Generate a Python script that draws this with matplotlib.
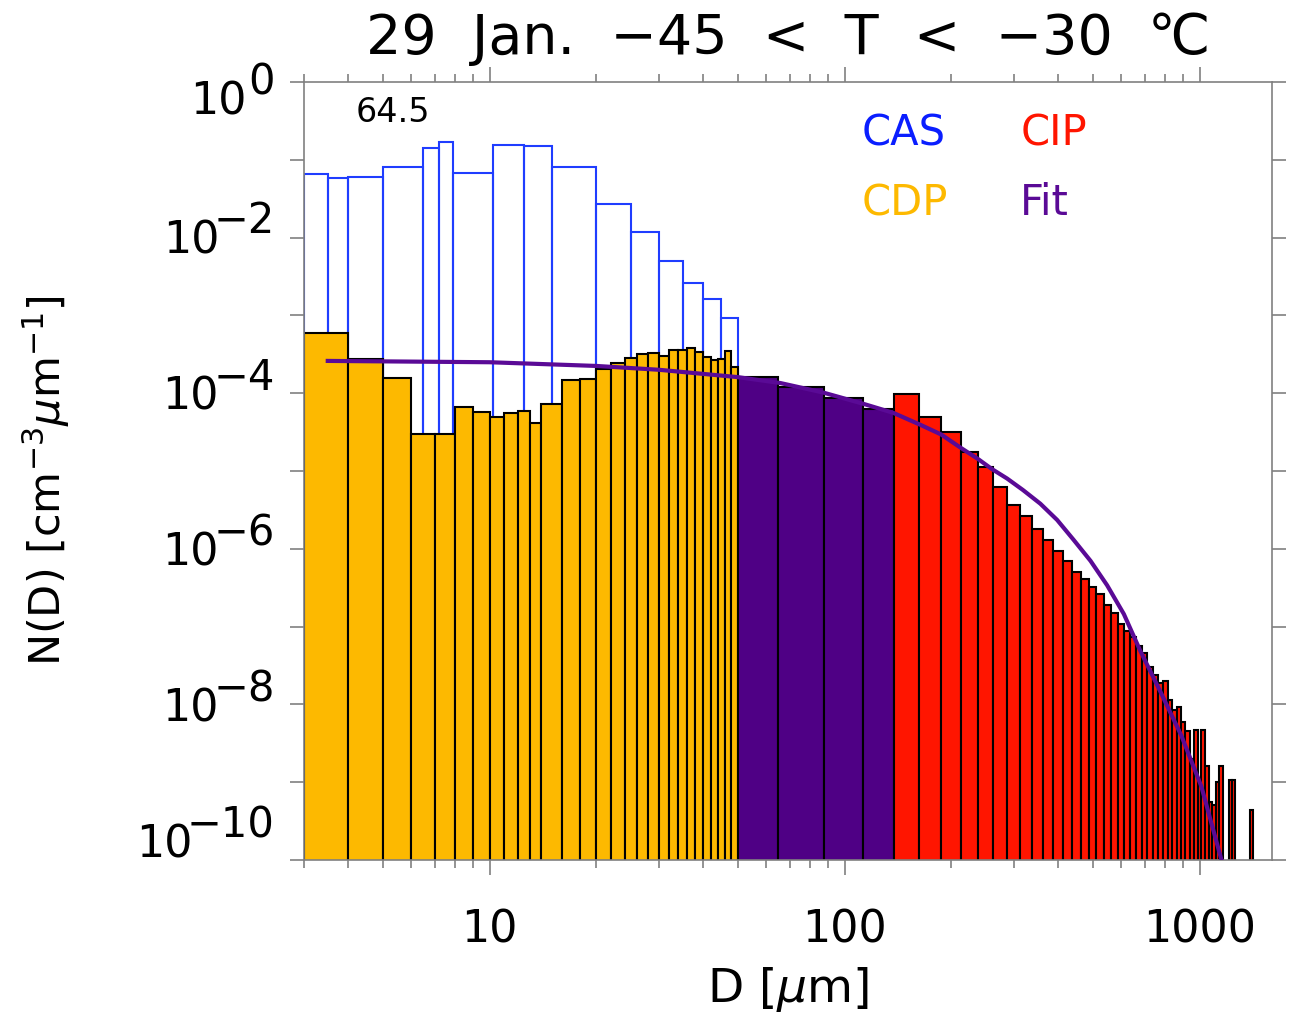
import matplotlib
matplotlib.use('Agg')
import matplotlib.pyplot as plt
import numpy as np
from matplotlib.ticker import FixedLocator, NullFormatter

plt.rcParams['font.family'] = ['DejaVu Sans']
plt.rcParams['mathtext.fontset'] = 'dejavusans'

# CAS bins (outline only)
cas_edges = [3, 3.5, 4, 5, 6.5, 7.2, 7.9, 10.2, 12.5, 15, 20, 25, 30, 35, 40, 45, 50]
cas_vals = [6.5e-2, 5.9e-2, 6.1e-2, 8.1e-2, 1.4e-1, 1.68e-1, 6.8e-2, 1.55e-1, 1.52e-1,
            8.1e-2, 2.73e-2, 1.18e-2, 5.0e-3, 2.63e-3, 1.61e-3, 9.2e-4]

# CDP bins
cdp_edges = [3, 4, 5, 6, 7, 8, 9, 10, 11, 12, 13, 14, 16, 18, 20, 22, 24, 26, 28, 30,
             32, 34, 36, 38, 40, 42, 44, 46, 48, 50]
cdp_vals = [5.9e-4, 2.73e-4, 1.56e-4, 2.96e-5, 2.96e-5, 6.6e-5, 5.8e-5, 4.9e-5, 5.6e-5,
            5.9e-5, 4.2e-5, 7.2e-5, 1.48e-4, 1.52e-4, 2.05e-4, 2.47e-4, 2.86e-4, 3.19e-4,
            3.32e-4, 3.03e-4, 3.59e-4, 3.56e-4, 3.77e-4, 3.41e-4, 2.89e-4, 2.65e-4,
            2.75e-4, 3.46e-4, 2.15e-4]

# purple bins between CDP and CIP
mid_edges = [50, 65, 87.5, 112.5, 137.5]
mid_vals = [1.63e-4, 1.19e-4, 8.7e-5, 6.3e-5]

# CIP bins (0 = empty bin)
cip_edges = [137.5, 162.5, 187.5, 212.5, 237.5, 262.5, 287.5, 312.5, 337.5, 362.5,
             387.5, 412.5, 437.5, 462.5, 487.5, 512.5, 537.5, 562.5, 587.5, 612.5,
             637.5, 662.5, 687.5, 712.5, 737.5, 762.5, 787.5, 812.5, 837.5, 862.5,
             887.5, 912.5, 937.5, 962.5, 987.5, 1012.5, 1037.5, 1062.5, 1087.5, 1112.5,
             1137.5, 1162.5, 1187.5, 1212.5, 1237.5, 1262.5, 1287.5, 1312.5, 1337.5,
             1362.5, 1387.5, 1412.5]
cip_vals = [9.77e-5, 4.99e-5, 3.2e-5, 1.75e-5, 1.11e-5, 6.28e-6, 3.66e-6, 2.62e-6,
            1.81e-6, 1.3e-6, 9.5e-7, 7.0e-7, 5.1e-7, 4.06e-7, 3.27e-7, 2.66e-7, 1.88e-7,
            1.51e-7, 1.08e-7, 8.7e-8, 7.4e-8, 5.6e-8, 4.6e-8, 3.06e-8, 2.4e-8, 1.9e-8,
            2.0e-8, 1.14e-8, 8.5e-9, 9.2e-9, 6.0e-9, 4.6e-9, 2.0e-9, 4.7e-9, 1.0e-9,
            4.7e-9, 1.6e-9, 5.4e-10, 5.0e-10, 1.0e-9, 1.6e-9, 0, 0, 1.05e-9, 1.07e-9,
            0, 0, 0, 0, 0, 4.3e-10]

# fitted curve
fit_d = [3.5, 10, 20, 30, 50, 66, 87, 113, 137, 164, 187, 212, 238, 260, 287, 318,
         356, 397, 442, 493, 549, 612, 682, 779, 888, 1012, 1153]
fit_n = [2.6e-4, 2.5e-4, 2.24e-4, 2.0e-4, 1.61e-4, 1.35e-4, 1.02e-4, 7.3e-5, 5.6e-5,
         3.9e-5, 2.95e-5, 2.0e-5, 1.42e-5, 1.06e-5, 8.0e-6, 5.7e-6, 3.8e-6, 2.35e-6,
         1.3e-6, 7.0e-7, 3.4e-7, 1.45e-7, 4.8e-8, 1.4e-8, 4.0e-9, 8.8e-10, 1.0e-10]

# y tick labels: 10 with an exponent
yt = [1e0, 1e-2, 1e-4, 1e-6, 1e-8, 1e-10]
yt_exp = ['0', '\u22122', '\u22124', '\u22126', '\u22128', '\u221210']
yt_nudge = [-20, -3, -4, -4, -5, 15]  # pixels, label shift against the tick

fig = plt.figure(figsize=(12.93, 10.23), dpi=100)
ax = fig.add_axes([304 / 1293, 1 - 860 / 1023, 968 / 1293, 778 / 1023])
ax.set_xscale('log')
ax.set_yscale('log')


def draw_bars(edges, vals, **kw):
    edges = np.asarray(edges, float)
    vals = np.asarray(vals, float)
    left = edges[:-1]
    width = np.diff(edges)
    m = vals > 0
    ax.bar(left[m], vals[m], width=width[m], align='edge', bottom=1e-11, **kw)


draw_bars(cas_edges, cas_vals, facecolor='none', edgecolor='#1f3dff', linewidth=1.5, zorder=1)
draw_bars(cdp_edges, cdp_vals, facecolor='#fdb900', edgecolor='black', linewidth=1.5, zorder=2)
draw_bars(mid_edges, mid_vals, facecolor='#4f0085', edgecolor='black', linewidth=1.5, zorder=2)
draw_bars(cip_edges, cip_vals, facecolor='#ff1500', edgecolor='black', linewidth=1.5, zorder=2)
ax.plot(fit_d, fit_n, color='#5a0a96', linewidth=3, zorder=3)

ax.set_xlim(3, 1600)
ax.set_ylim(1e-10, 1)

# ticks
ax.xaxis.set_major_locator(FixedLocator([10, 100, 1000]))
ax.set_xticklabels(['10', '100', '1000'])
ax.xaxis.set_minor_locator(FixedLocator([3, 4, 5, 6, 7, 8, 9, 20, 30, 40, 50, 60, 70,
                                         80, 90, 200, 300, 400, 500, 600, 700, 800, 900]))
ax.xaxis.set_minor_formatter(NullFormatter())
ax.yaxis.set_major_locator(FixedLocator(yt))
ax.set_yticklabels([])
ax.yaxis.set_minor_locator(FixedLocator([1e-1, 1e-3, 1e-5, 1e-7, 1e-9]))
ax.yaxis.set_minor_formatter(NullFormatter())

ax.tick_params(which='both', direction='out', color='#808080', width=1.2,
               top=True, right=True)
ax.tick_params(axis='x', which='major', length=11, labelsize=32, pad=24)
ax.tick_params(axis='x', which='minor', length=5.5)
ax.tick_params(axis='y', which='both', length=10)
for s in ax.spines.values():
    s.set_color('#808080')
    s.set_linewidth(1.2)

# y tick labels built from base and exponent at similar size
renderer = fig.canvas.get_renderer()
for v, e, nd in zip(yt, yt_exp, yt_nudge):
    dy = nd * 0.72
    t = ax.annotate(e, xy=(0, v), xycoords=('axes fraction', 'data'),
                    xytext=(-21, dy + 14), textcoords='offset points',
                    ha='right', va='center', fontsize=30)
    w = t.get_window_extent(renderer).width * 0.72
    gap = 1 if e == '0' else -4
    ax.annotate('10', xy=(0, v), xycoords=('axes fraction', 'data'),
                xytext=(-21 - w - gap, dy), textcoords='offset points',
                ha='right', va='center', fontsize=32)

ax.set_xlabel(r'D [$\mu$m]', fontsize=34, labelpad=10)
ax.set_ylabel(r'N(D) [cm$^{-3}\mu$m$^{-1}$]', fontsize=31)
ax.yaxis.set_label_coords(-0.24, 0.488)
ax.set_title('29  Jan.  \u221245  <  T  <  \u221230  \u2103', fontsize=40, pad=20)

ax.text(0.053, 0.961, '64.5', transform=ax.transAxes, fontsize=24, va='center')
ax.text(0.576, 0.934, 'CAS', transform=ax.transAxes, fontsize=30, color='#0a1eff', va='center')
ax.text(0.74, 0.934, 'CIP', transform=ax.transAxes, fontsize=30, color='#ff1500', va='center')
ax.text(0.576, 0.844, 'CDP', transform=ax.transAxes, fontsize=30, color='#fdb900', va='center')
ax.text(0.74, 0.844, 'Fit', transform=ax.transAxes, fontsize=30, color='#5a0a96', va='center')

fig.savefig('out.png', dpi=100)
